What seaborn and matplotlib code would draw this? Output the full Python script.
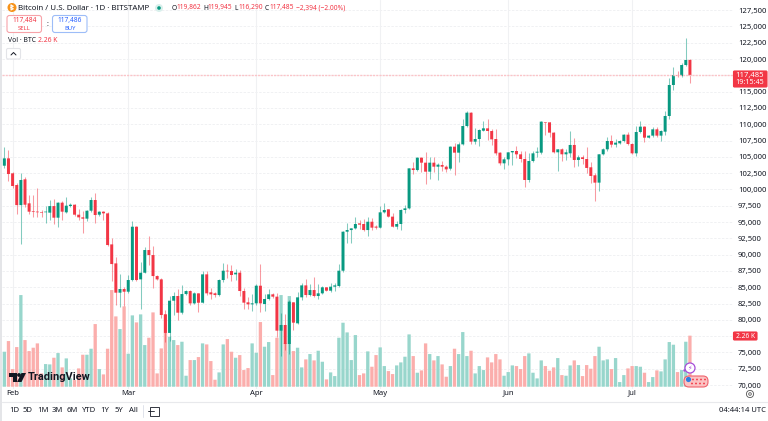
# Bitcoin daily candles + volume, TradingView look
import numpy as np
import pandas as pd
import matplotlib
matplotlib.use("Agg")
import matplotlib.pyplot as plt
from matplotlib.patches import Circle, FancyBboxPatch, Polygon, Rectangle
import seaborn as sns

# days counted from Feb 1 (Jan 30 = -2 ... Jul 15 = 164)
days = list(range(-2, 165))

opens = [103640, 104766, 102470, 100680, 97600, 101550, 97870, 96640, 96600, 96500, 96500, 96440, 97450, 95670, 97970, 96490, 97460, 97660, 96130, 95720, 95520, 96740, 98380, 96130, 96590,
         96330, 91575, 88660, 84170, 84730, 84320, 86110, 94285, 86210, 87230, 90710, 89940, 86720, 86210, 80845, 78000, 82940, 83660, 81100, 83960, 84420, 82530, 84065,
         82637, 86980, 84220, 84070, 83810, 86110, 87540, 87490, 86980, 87235, 84425, 82690, 82380,
         82535, 85240, 82430, 83200, 83915, 83560, 78345, 79215, 76300, 82690, 79470, 83455, 85290, 83810, 84575, 83660, 84070, 84990, 84475, 85090, 85190, 87540, 93520, 93775, 94030, 94800, 94700, 93775, 95050, 94300,
         94140, 96490, 96950, 95830, 94290, 94700, 96850, 97100, 103235, 102980, 104870, 104105, 102725, 104105, 103490, 103750, 103490, 103185, 106560, 105640, 106915, 109725, 111770, 107325, 107735, 109010, 109370, 108960, 107735, 105640, 104005,
         104615, 105690, 105895, 105385, 104670, 101450, 104360, 105640, 105640, 110290, 110290, 108710, 105695, 106155, 105390, 105540, 106820, 104520, 104930, 104670, 103395, 102170, 101045, 105390, 106155, 107430, 106870, 107070, 107430, 108400,
         106970, 105540, 108810, 109630, 107940, 108250, 109220, 108250, 108860, 111265, 116015, 117550, 117400, 119080, 119862]
highs = [106450, 106050, 102670, 100930, 102570, 101850, 99150, 99150, 100170, 96840, 97450, 98380, 98480, 98120, 98220, 98890, 97970, 97770, 96950, 96740, 96850, 98890, 99500, 96740, 96740,
         96590, 92500, 89686, 87030, 84990, 86875, 95150, 94390, 88920, 91115, 92850, 91320, 86875, 86365, 81500, 83600, 84320, 84675, 85340, 84575, 84575, 84220, 84170,
         87440, 87440, 84835, 84325, 86215, 88770, 88565, 88410, 87745, 87645, 84835, 83455, 83960,
         85500, 88565, 83960, 84735, 84170, 84070, 81000, 80900, 83000, 82790, 84320, 85600, 86210, 85500, 86520, 85450, 85190, 85090, 85600, 85600, 88565, 93670, 94900, 94130, 95820, 95310, 95410, 95820, 95570, 94570,
         97460, 97870, 97050, 96340, 95210, 96950, 97615, 103340, 104260, 104920, 104920, 105690, 104920, 104920, 104105, 104410, 103700, 106610, 107070, 107325, 110750, 111975, 111870, 109370, 109215, 110440, 110750, 109215, 109215, 105790, 104920,
         105790, 105950, 106660, 105895, 105895, 105535, 105950, 106560, 110550, 110395, 110395, 108810, 106160, 106300, 106155, 109015, 107840, 105285, 105235, 106560, 104260, 102475, 105440, 106300, 108095, 108350, 107740, 107585, 108505, 108810,
         107175, 109730, 110550, 109730, 108350, 109630, 109630, 109120, 112030, 117040, 118830, 118215, 119440, 123170, 119945]
lows = [103230, 101340, 100270, 96180, 91630, 97350, 96230, 95720, 95720, 95720, 94800, 95310, 94700, 94190, 95310, 96335, 97360, 95930, 95310, 93370, 95210, 96590, 94900, 95930, 95310,
        91380, 86007, 82276, 82020, 82120, 84170, 86007, 85955, 81610, 87130, 88410, 84830, 86110, 80230, 76600, 76800, 80745, 79980, 80900, 83810, 82280, 82380, 81255,
        82530, 83810, 83150, 83560, 83710, 85855, 86365, 85990, 86110, 83660, 81615, 81615, 81410,
        82280, 81260, 81410, 83000, 83300, 77420, 74500, 75380, 74700, 78445, 79370, 83000, 83560, 83660, 83560, 83150, 83915, 84370, 84320, 84370, 85090, 87390, 91835, 91735, 93880, 93880, 93670, 92910, 93780, 93880,
        94040, 96440, 95725, 94190, 93880, 93780, 96340, 97000, 102370, 102880, 102720, 100835, 101550, 102725, 101450, 102880, 102725, 102980, 102160, 104260, 106760, 109630, 106970, 106970, 106710, 108910, 107580, 106810, 105280, 103750, 103130,
        103750, 103750, 104770, 104260, 100430, 101190, 104260, 105025, 105440, 108350, 108100, 105640, 102880, 104360, 104520, 104930, 103395, 103600, 103905, 102475, 100940, 98285, 99765, 105285, 105950, 106560, 106460, 106920, 107225, 106815,
        105440, 105185, 108605, 107330, 107840, 107990, 108095, 107480, 108350, 110755, 115250, 117300, 117300, 118930, 116290]
closes = [104766, 102365, 100525, 97600, 101450, 97660, 96590, 96540, 96500, 96450, 96600, 97450, 95670, 97970, 96590, 97510, 97660, 96130, 95720, 95520, 96740, 98380, 96080, 96590, 96340,
          91475, 88560, 84170, 84730, 84320, 86110, 94285, 86110, 87230, 90710, 89940, 86720, 86210, 80745, 78000, 82940, 83660, 81100, 83960, 84420, 82530, 84065, 82630,
          86980, 84070, 83915, 83810, 86110, 87540, 87440, 86880, 87235, 84425, 82640, 82380, 82535,
          85240, 82535, 83200, 83915, 83560, 78345, 79215, 76300, 82790, 79570, 83455, 85290, 83810, 84575, 83660, 84070, 84990, 84475, 85090, 85290, 87540, 93520, 93775, 94030, 94700, 94600, 93775, 95050, 94140, 94140,
          96490, 96850, 95830, 94290, 94700, 96850, 97100, 103235, 102980, 104870, 104105, 102725, 104105, 103490, 103800, 103490, 103080, 106560, 105640, 106915, 109725, 111770, 107325, 107735, 109115, 109370, 108960, 107680, 105535, 104005, 104615,
          105690, 105895, 105385, 104670, 101450, 104360, 105535, 105790, 110395, 110240, 108710, 105695, 106155, 105390, 105695, 106820, 104520, 104930, 104670, 103295, 102065, 101045, 105390, 106155, 107430, 106870, 107175, 107430, 108400, 106970,
          105540, 108810, 109630, 107940, 108250, 109220, 108250, 108965, 111265, 116015, 117550, 117450, 119080, 119850, 117485]
volumes = [1549, 2021, 782, 1755, 4056, 2065, 1578, 1726, 1918, 590, 1003, 988, 1283, 1490, 856, 1254, 369, 295, 811, 1416, 1416, 1682, 2773, 782, 546, 1682, 4278, 3112, 2552, 3555,
           1460, 3157, 2847, 3201, 1844, 2168, 3289, 590, 1696, 3201, 2213, 2065, 1844, 1991, 487, 1180, 1180, 1313, 1918, 1873, 1136, 310, 634, 1873, 2109, 1549, 1283, 1401, 738, 826, 1918,
           1505, 2862, 1770, 1977, 516, 2168, 4056, 1918, 4012, 1578, 1726, 856, 1210, 1446, 1165, 1593, 1106, 325, 634, 472, 2168, 2832, 2404, 1180, 2286, 516, 590, 1564, 885, 1401,
           1741, 915, 693, 561, 944, 1077, 1328, 2316, 1357, 620, 723, 1918, 1446, 1165, 1357, 988, 443, 915, 1682, 1446, 2419, 1357, 1593, 590, 915, 738, 1298, 1077, 1446, 1210, 487,
           649, 944, 915, 782, 1357, 1475, 620, 369, 1165, 915, 708, 856, 1269, 516, 487, 944, 1165, 959, 472, 959, 797, 1357, 1770, 1165, 1210, 782, 1269, 207, 516, 811,
           915, 915, 885, 620, 207, 428, 723, 679, 1210, 1977, 1859, 649, 738, 1991, 2260]

month_days = [0, 28, 59, 89, 120, 150]
month_labels = ["Feb", "Mar", "Apr", "May", "Jun", "Jul"]
price_ticks = list(range(70000, 130000, 2500))
hidden_ticks = [77500, 117500]  # sit under the red tags
ranges = ["1D", "5D", "1M", "3M", "6M", "YTD", "1Y", "5Y", "All"]
range_x = [14, 28, 43, 57, 72, 89, 105, 119, 133]

UP = "#089981"
DOWN = "#f23645"
UP_VOL = "#98d6cc"
DOWN_VOL = "#fbaeac"
TEXT = "#131722"

df = pd.DataFrame({"day": days, "open": opens, "high": highs, "low": lows,
                   "close": closes, "volume": volumes})
df["dir"] = np.where(df["close"] >= df["open"], "up", "down")

sns.set_theme(style="white")
plt.rcParams["font.family"] = ["Noto Sans", "DejaVu Sans"]

W, H = 768, 421
fig = plt.figure(figsize=(W / 100, H / 100), dpi=100, facecolor="white")
rect = [2 / W, 1 - 389 / H, 731 / W, 389 / H]
xlim = (-2.566, 174.43)
ylim = (69400, 129050)

# back axes: grid and tick labels
ax = fig.add_axes(rect, zorder=1)
ax.set_xlim(xlim)
ax.set_ylim(ylim)
ax.set_xticks(month_days, month_labels)
ax.set_yticks(price_ticks, ["" if p in hidden_ticks else f"{p:,}" for p in price_ticks])
ax.yaxis.tick_right()
ax.tick_params(axis="y", length=0, pad=3.6, labelsize=5.5, labelcolor=TEXT)
ax.tick_params(axis="x", length=0, pad=0.5, labelsize=5.5, labelcolor=TEXT)
ax.grid(axis="y", color="#f0f1f3", lw=0.7, ls=(0, (2.5, 1.5)))
ax.grid(axis="x", color="#f0f1f3", lw=0.8)
sns.despine(ax=ax, left=True, right=True, top=True, bottom=True)

# volume
vol_ax = fig.add_axes(rect, zorder=2)
sns.barplot(data=df, x="day", y="volume", hue="dir", native_scale=True, dodge=False,
            palette={"up": UP_VOL, "down": DOWN_VOL}, saturation=1, width=0.8,
            linewidth=0, errorbar=None, legend=False, ax=vol_ax)
vol_ax.set_xlim(xlim)
vol_ax.set_ylim(-100, 17110)
vol_ax.axis("off")
for bar in vol_ax.patches:
    bar.set_snap(False)

# candles
candle_ax = fig.add_axes(rect, zorder=3)
candle_ax.set_xlim(xlim)
candle_ax.set_ylim(ylim)
candle_ax.axis("off")
for name, col in [("up", UP), ("down", DOWN)]:
    part = df[df["dir"] == name]
    candle_ax.vlines(part["day"], part["low"], part["high"], color=col, lw=0.75, alpha=0.5)
    body = (part["close"] - part["open"]).abs().clip(lower=90)
    candle_ax.bar(part["day"], body, bottom=part[["open", "close"]].min(axis=1),
                  width=0.72, color=col, linewidth=0)
for bar in candle_ax.patches:
    bar.set_snap(False)

# last price line
candle_ax.axhline(closes[-1], color="#fbc4c8", lw=1.0, ls=(0, (1.5, 0.8)))

# chrome in pixel coordinates
top = fig.add_axes([0, 0, 1, 1], zorder=5)
top.set_xlim(0, W)
top.set_ylim(H, 0)
top.axis("off")
top.patch.set_alpha(0)


def label(x, y, s, size=5.5, color=TEXT, ha="left", **kw):
    top.text(x, y, s, fontsize=size, color=color, ha=ha, va="center", **kw)


def box(x, y, w, h, face, edge, lw=0.8, rad=2):
    top.add_patch(FancyBboxPatch((x, y), w, h, boxstyle=f"round,pad=0,rounding_size={rad}",
                                 fc=face, ec=edge, lw=lw))


# header
top.add_patch(Circle((12, 7.5), 4.5, fc="#f7931a", ec="none"))
top.plot([11, 11, 13.4, 11, 13.4, 11], [5, 10, 8.8, 7.5, 6.2, 5], color="white", lw=0.7)
label(18.5, 8, "Bitcoin / U.S. Dollar · 1D · BITSTAMP", size=5.7)
top.add_patch(Circle((159, 8), 4, fc="#d9f0ec", ec="none"))
top.add_patch(Circle((159, 8), 1.8, fc=UP, ec="none"))
x = 172
for key, val in [("O", "119,862"), ("H", "119,945"), ("L", "116,290"), ("C", "117,485")]:
    label(x, 8, key, size=4.8)
    label(x + 4.6, 8, val, size=4.8, color=DOWN)
    x += 31
label(x - 0.5, 8, "−2,394 (−2.00%)", size=4.8, color=DOWN)

box(7, 15.5, 34.5, 17, "white", "#f7a3a9", rad=2.5)
label(24.3, 20.5, "117,484", size=4.8, color=DOWN, ha="center")
label(24.3, 28.5, "SELL", size=4.2, color=DOWN, ha="center")
label(47, 24.5, ":", size=5, ha="center")
box(52.5, 15.5, 34.5, 17, "white", "#9dbdf8", rad=2.5)
label(69.7, 20.5, "117,486", size=4.8, color="#2962ff", ha="center")
label(69.7, 28.5, "BUY", size=4.2, color="#2962ff", ha="center")
label(7.5, 41, "Vol · BTC", size=4.9)
label(38, 41, "2.26 K", size=4.9, color=DOWN)
box(6.5, 48.5, 14, 10.5, "white", "#e3e4e8", rad=1.5)
top.plot([11, 13.5, 16], [55, 52.5, 55], color=TEXT, lw=0.7)

# price tags
box(733.5, 71, 33.5, 16, DOWN, DOWN, rad=1)
label(750, 75.7, "117,485", color="white", ha="center")
label(750, 82.7, "19:15:45", color="white", ha="center", size=5.2)
box(733.5, 332, 23.5, 8, DOWN, DOWN, rad=1)
label(745.2, 336, "2.26 K", size=4.8, color="white", ha="center")

# TradingView logo
top.add_patch(Polygon([(9, 373), (17, 373), (17, 382), (13, 382), (13, 377), (9, 377)], fc=TEXT, ec="none"))
top.add_patch(Circle((19, 375), 1.9, fc=TEXT, ec="none"))
top.add_patch(Polygon([(21.5, 373), (26, 373), (21.5, 382), (17, 382)], fc=TEXT, ec="none"))
label(28, 377.5, "TradingView", size=7.9, fontweight="bold", family="Roboto")

# event markers
top.add_patch(Circle((690, 368), 5, fc="white", ec="#a64dd8", lw=0.9))
label(690, 368, "⚡", size=4.6, color="#a64dd8", ha="center", family="DejaVu Sans")
top.add_patch(Circle((684.5, 370.5), 1.2, fc="#a64dd8", ec="none"))
box(684, 376, 24, 11, "#fbc3c3", "#f0636d", rad=5)
for cx in [693, 697, 701, 705]:
    top.add_patch(Circle((cx, 379.5), 0.9, fc=DOWN, ec="none"))
    top.add_patch(Circle((cx - 1, 383.5), 0.9, fc=DOWN, ec="none"))
top.add_patch(Circle((688.5, 379.5), 2.6, fc="#2f7de1", ec="none"))

# bottom bar
top.add_patch(Rectangle((0, 0), 1.8, H, fc="#e4e5e8", ec="none"))
top.plot([2, W], [402, 402], color="#e8e9ec", lw=0.8)
for rx, rs in zip(range_x, ranges):
    label(rx, 411, rs, ha="center")
top.plot([142.5, 142.5], [405, 417], color="#e0e3eb", lw=0.7)
top.add_patch(Rectangle((150, 406.5), 8.5, 9, fc="none", ec=TEXT, lw=0.6))
top.plot([147.5, 154], [411, 411], color=TEXT, lw=0.6)
label(719, 411, "04:44:14 UTC", size=5.5)
top.add_patch(Circle((750, 394), 3.6, fc="none", ec="#555", lw=0.6))
top.add_patch(Circle((750, 394), 1.3, fc="none", ec="#555", lw=0.6))

fig.savefig("out.png", dpi=100)
